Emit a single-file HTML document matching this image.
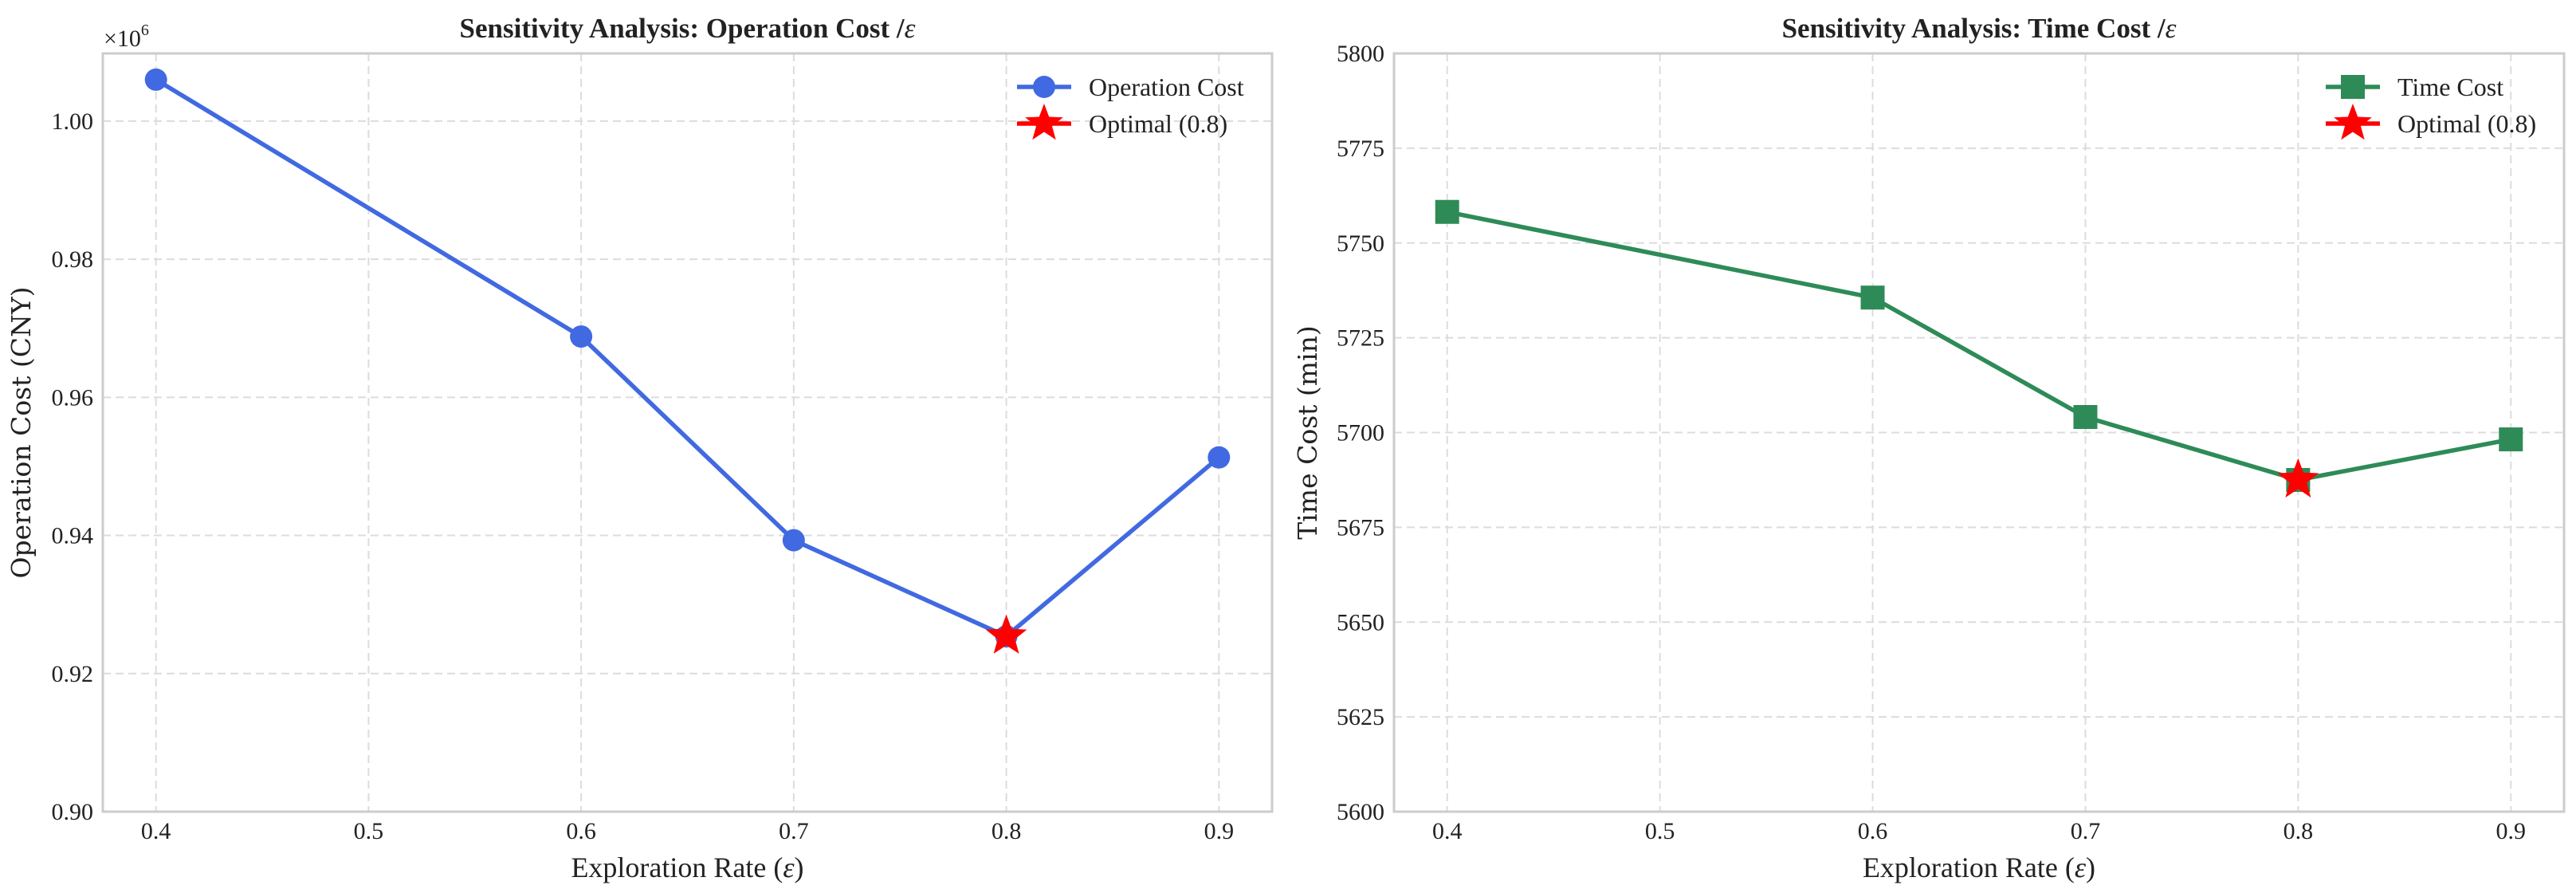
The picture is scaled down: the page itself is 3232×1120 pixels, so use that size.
<!DOCTYPE html>
<html><head><meta charset="utf-8"><style>
html,body{margin:0;padding:0;background:#fff;}
svg{display:block;font-family:"Liberation Serif","DejaVu Serif",serif;}
</style></head>
<body>
<svg id="chart" width="3232" height="1120" viewBox="0 0 3232 1120" xmlns="http://www.w3.org/2000/svg"></svg>
<script>
const xValues = [0.4, 0.6, 0.7, 0.8, 0.9];
const opCost = [1.006, 0.9688, 0.9393, 0.9254, 0.9513];
const timeCost = [5758.2, 5735.6, 5704.1, 5687.5, 5698.2];
const xTicks = [0.4, 0.5, 0.6, 0.7, 0.8, 0.9];
const opTicks = [0.90, 0.92, 0.94, 0.96, 0.98, 1.00];
const timeTicks = [5600, 5625, 5650, 5675, 5700, 5725, 5750, 5775, 5800];
const optimalX = 0.8;

const NS = "http://www.w3.org/2000/svg";
const svg = document.getElementById('chart');
function mk(tag, attrs, parent, text) {
  const e = document.createElementNS(NS, tag);
  for (const k in attrs) e.setAttribute(k, attrs[k]);
  if (text !== undefined) e.textContent = text;
  (parent || svg).appendChild(e);
  return e;
}
function starPts(cx, cy, R, r) {
  const p = [];
  for (let i = 0; i < 10; i++) {
    const a = -Math.PI / 2 + i * Math.PI / 5;
    const rr = i % 2 ? r : R;
    p.push((cx + rr * Math.cos(a)).toFixed(1) + ',' + (cy + rr * Math.sin(a)).toFixed(1));
  }
  return p.join(' ');
}

function panel(cfg) {
  const g = mk('g', {});
  
  
  const L = cfg.left, R = cfg.right, T = 67, B = 1018;
  const xs = v => L + (v - 0.375) / 0.55 * (R - L);
  const ys = v => B - (v - cfg.ymin) / (cfg.ymax - cfg.ymin) * (B - T);
  const grid = mk('g', {stroke: '#dcdcdc', 'stroke-width': 2, 'stroke-dasharray': '10,6'}, g);
  
  
  xTicks.forEach(t => mk('line', {x1: xs(t), x2: xs(t), y1: T, y2: B}, grid));
  cfg.yTicks.forEach(t => mk('line', {x1: L, x2: R, y1: ys(t), y2: ys(t)}, grid));
  const fr = mk('rect', {x: L, y: T, width: R - L, height: B - T, fill: 'none', stroke: '#cccccc', 'stroke-width': 3}, g);
  
  
  xTicks.forEach(t => {
    const e = mk('text', {x: xs(t), y: 1052, 'font-size': 30, 'text-anchor': 'middle', fill: '#222'}, g, t.toFixed(1));
    
    
  });
  cfg.yTicks.forEach(t => {
    const e = mk('text', {x: L - 12, y: ys(t) + 10, 'font-size': 30, 'text-anchor': 'end', fill: '#222'}, g, cfg.fmt(t));
    
    
  });
  const ti = mk('text', {x: (L + R) / 2, y: 47, 'font-size': 35, 'font-weight': 'bold', 'text-anchor': 'middle', fill: '#222'}, g);
  
  
  mk('tspan', {}, ti, cfg.title + ' /');
  mk('tspan', {'font-style': 'italic', 'font-weight': 'normal'}, ti, 'ε');
  const xl = mk('text', {x: (L + R) / 2, y: 1100, 'font-size': 36, 'text-anchor': 'middle', fill: '#222'}, g);
  
  
  mk('tspan', {}, xl, 'Exploration Rate (');
  mk('tspan', {'font-style': 'italic'}, xl, 'ε');
  mk('tspan', {}, xl, ')');
  const yl = mk('text', {x: 0, y: 0, 'font-size': 33, 'font-family': '"DejaVu Serif", serif', 'text-anchor': 'middle', fill: '#222', transform: `translate(${cfg.ylabX},${(T + B) / 2}) rotate(-90)`}, g, cfg.ylabel);
  
  
  const pts = xValues.map((x, i) => xs(x).toFixed(1) + ',' + ys(cfg.data[i]).toFixed(1)).join(' ');
  const pl = mk('polyline', {points: pts, fill: 'none', stroke: cfg.color, 'stroke-width': 5.5, 'stroke-linejoin': 'round'}, g);
  
  
  xValues.forEach((x, i) => {
    let m;
    if (cfg.marker === 'circle') m = mk('circle', {cx: xs(x), cy: ys(cfg.data[i]), r: 14, fill: cfg.color}, g);
    else m = mk('rect', {x: xs(x) - 15, y: ys(cfg.data[i]) - 15, width: 30, height: 30, fill: cfg.color}, g);
    
    
  });
  const oi = xValues.indexOf(optimalX);
  const st = mk('polygon', {points: starPts(xs(optimalX), ys(cfg.data[oi]), 25, 10.5), fill: '#ff0000', stroke: '#ff0000', 'stroke-width': 1.5}, g);
  
  
  const lg = mk('g', {}, g);
  
  
  const lx = cfg.legX;
  mk('line', {x1: lx, x2: lx + 68, y1: 109, y2: 109, stroke: cfg.color, 'stroke-width': 5.5}, lg);
  if (cfg.marker === 'circle') mk('circle', {cx: lx + 34, cy: 109, r: 14, fill: cfg.color}, lg);
  else mk('rect', {x: lx + 19, y: 94, width: 30, height: 30, fill: cfg.color}, lg);
  const t1 = mk('text', {x: lx + 90, y: 120, 'font-size': 32, fill: '#222'}, lg, cfg.series);
  
  
  mk('line', {x1: lx, x2: lx + 68, y1: 155, y2: 155, stroke: '#ff0000', 'stroke-width': 5.5}, lg);
  mk('polygon', {points: starPts(lx + 34, 155, 25, 10.5), fill: '#ff0000'}, lg);
  const t2 = mk('text', {x: lx + 90, y: 166, 'font-size': 32, fill: '#222'}, lg, 'Optimal (0.8)');
  
  
  return g;
}

panel({name: 'operation-cost-panel', left: 129, right: 1596, ymin: 0.9, ymax: 1.0098, yTicks: opTicks,
  fmt: t => t.toFixed(2), data: opCost, color: '#4169e1', marker: 'circle',
  title: 'Sensitivity Analysis: Operation Cost', ylabel: 'Operation Cost (CNY)', ylabX: 38,
  series: 'Operation Cost', legX: 1276});
panel({name: 'time-cost-panel', left: 1749, right: 3217, ymin: 5600, ymax: 5800, yTicks: timeTicks,
  fmt: t => String(t), data: timeCost, color: '#2e8b57', marker: 'square',
  title: 'Sensitivity Analysis: Time Cost', ylabel: 'Time Cost (min)', ylabX: 1652,
  series: 'Time Cost', legX: 2918});

const off = mk('text', {x: 130, y: 58, 'font-size': 30, fill: '#222'});


mk('tspan', {}, off, '×10');
mk('tspan', {'font-size': 20, dy: -14}, off, '6');
</script>
</body></html>
